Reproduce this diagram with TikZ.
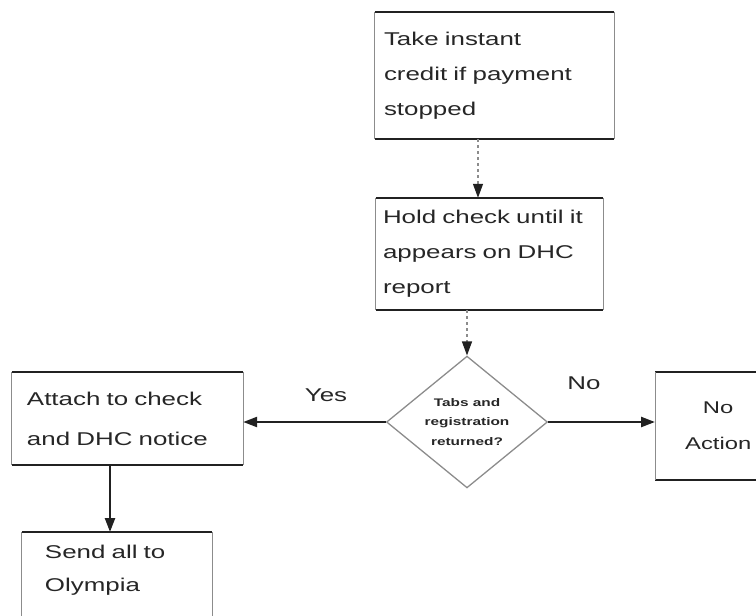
\documentclass[tikz,border=0pt]{standalone}
\usepackage{fontspec}
\setmainfont{Liberation Sans}[FakeStretch=1.4]
\usetikzlibrary{arrows.meta,shapes.geometric}

\definecolor{ink}{gray}{0.15}
\definecolor{rulecol}{gray}{0.13}
\definecolor{sidecol}{gray}{0.55}

% outline of a box: heavy top and bottom rules, light sides
\newcommand\scanframe[1]{%
  \draw[toprule] (#1.north west) -- (#1.north east);
  \draw[toprule] (#1.south west) -- (#1.south east);
  \draw[siderule] (#1.north west) -- (#1.south west);
  \draw[siderule] (#1.north east) -- (#1.south east);}

\begin{document}
\begin{tikzpicture}[x=1pt,y=-1pt,
  toprule/.style={draw=rulecol,line width=2.4pt},
  siderule/.style={draw=sidecol,line width=1pt},
  box/.style={rectangle,draw=none,inner sep=0pt,text=ink,align=left,
    font=\fontsize{18.5}{35}\selectfont},
  decision/.style={diamond,draw=sidecol,line width=1.3pt,inner sep=0pt,
    text=ink,align=center,font=\bfseries\fontsize{11}{19.5}\selectfont},
  label/.style={text=ink,font=\fontsize{18.5}{22}\selectfont},
  flow/.style={draw=rulecol,line width=2.4pt,
    -{Triangle[length=14pt,width=10pt]}},
  faint/.style={draw=sidecol,line width=1.2pt,dashed,
    -{Triangle[length=14pt,width=10pt,color=rulecol]}}]
\useasboundingbox (0,0) rectangle (756,616);
\clip (0,0) rectangle (756,616);

% process boxes
\node[box,minimum width=239pt,minimum height=127pt,text width=221pt]
  (b1) at (494.5,75.5) {Take instant\\credit if payment\\stopped};
\node[box,minimum width=227pt,minimum height=112pt,text width=213pt]
  (b2) at (489.5,254) {Hold check until it\\appears on DHC\\report};
\node[box,minimum width=231pt,minimum height=93pt,text width=201pt,
  font=\fontsize{18.5}{40}\selectfont]
  (b3) at (127.5,418.5) {Attach to check\\and DHC notice};
% the right-hand box runs past the page edge; its text sits left of centre
\node[box,anchor=west,minimum width=145pt,minimum height=108pt,
  inner xsep=0pt,text width=145pt,
  font=\fontsize{17}{36}\selectfont]
  (b4) at (655,426) {\hspace*{30pt}\hbox to 66pt{\hfil No\hfil}\\
    \hspace*{30pt}\hbox to 66pt{\hfil Action\hfil}};
\node[box,anchor=north,minimum width=190pt,text width=144pt,
  inner ysep=13pt,text depth=70pt,font=\fontsize{18.5}{33}\selectfont]
  (b5) at (117,532) {Send all to\\Olympia};

% decision
\node[decision,minimum width=161pt,minimum height=127pt]
  (d) at (467,422) {Tabs and\\registration\\returned?};

\scanframe{b1}
\scanframe{b2}
\scanframe{b3}
\scanframe{b4}
\scanframe{b5}

% connectors
\draw[faint] ([xshift=-16.5pt]b1.south) -- ([xshift=-11.5pt]b2.north);
\draw[faint] (b2.south -| d.north) -- (d.north);
\draw[flow] (d.west) -- (d.west -| b3.east);
\draw[flow] (d.east) -- (d.east -| b4.west);
\draw[flow] ([xshift=-17.5pt]b3.south) -- ([xshift=-7pt]b5.north);

% branch labels
\node[label] (yes) at (326,395) {Yes};
\node[label] (no) at (584,383) {No};
\end{tikzpicture}
\end{document}
